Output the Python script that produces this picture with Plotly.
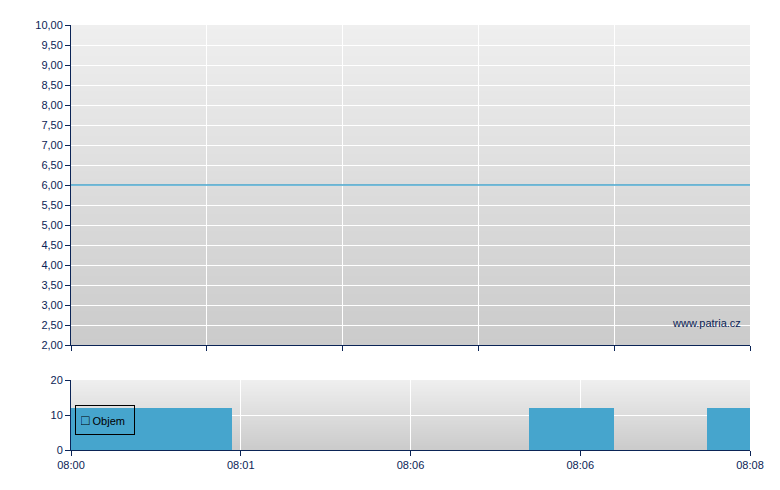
import base64, struct, zlib
import plotly.graph_objects as go

# ---- data ----
price_x = [0, 8]                     # minutes after 08:00 (axis span)
price_y = [6.0, 6.0]
bar_start = [0.0, 5.40, 7.49]
bar_end = [1.90, 6.40, 8.49]
volume = [12, 12, 12]
bottom_tick_vals = [0, 2, 4, 6, 8]
bottom_tick_text = ["08:00", "08:01", "08:06", "08:06", "08:08"]
top_tick_vals = [0, 1.6, 3.2, 4.8, 6.4, 8]
price_ticks = [2 + 0.5 * i for i in range(17)]

NAVY = "#0b2456"
FONT = dict(family="Liberation Sans", size=11, color=NAVY)


def gradient_png(top=239, bottom=203, h=128):
    rows = b""
    for i in range(h):
        v = int(round(top + (bottom - top) * i / (h - 1)))
        rows += b"\x00" + bytes([v])
    def chunk(tag, data):
        c = tag + data
        return struct.pack(">I", len(data)) + c + struct.pack(">I", zlib.crc32(c) & 0xffffffff)
    png = b"\x89PNG\r\n\x1a\n"
    png += chunk(b"IHDR", struct.pack(">IIBBBBB", 1, h, 8, 0, 0, 0, 0))
    png += chunk(b"IDAT", zlib.compress(rows))
    png += chunk(b"IEND", b"")
    return "data:image/png;base64," + base64.b64encode(png).decode()


GRAD = gradient_png()

fig = go.Figure()
fig.add_trace(go.Scatter(x=price_x, y=price_y, mode="lines",
                         line=dict(color="#46a5cd", width=1.3),
                         showlegend=False, xaxis="x", yaxis="y",
                         hoverinfo="skip"))
fig.add_trace(go.Bar(x=bar_start, y=volume,
                     width=[e - s for s, e in zip(bar_start, bar_end)],
                     offset=0, marker=dict(color="#46a5cd", line=dict(width=0)),
                     showlegend=False, xaxis="x2", yaxis="y2", name="Objem"))

top_dom = [105 / 425, 1]
bot_dom = [0, 70 / 425]

images = [
    dict(source=GRAD, xref="paper", yref="paper", x=0, y=top_dom[1],
         sizex=1, sizey=top_dom[1] - top_dom[0], sizing="stretch",
         xanchor="left", yanchor="top", layer="below"),
    dict(source=GRAD, xref="paper", yref="paper", x=0, y=bot_dom[1],
         sizex=1, sizey=bot_dom[1] - bot_dom[0], sizing="stretch",
         xanchor="left", yanchor="top", layer="below"),
]

axis_common = dict(showline=True, linecolor=NAVY, linewidth=1,
                   ticks="outside", tickcolor=NAVY, ticklen=5,
                   gridcolor="white", gridwidth=1, zeroline=False,
                   tickfont=FONT)

fig.update_layout(
    width=772, height=482,
    margin=dict(l=63, r=30, t=17, b=40),
    paper_bgcolor="white", plot_bgcolor="rgba(0,0,0,0)",
    separators=",.",
    images=images,
    showlegend=False,
    xaxis=dict(domain=[0, 1], range=[0, 8], anchor="y",
               tickvals=top_tick_vals, showticklabels=False, **axis_common),
    yaxis=dict(domain=top_dom, range=[2, 10], anchor="x",
               tickvals=price_ticks, tickformat=".2f", **axis_common),
    xaxis2=dict(domain=[0, 1], range=[0, 8], anchor="y2",
                tickvals=bottom_tick_vals, ticktext=bottom_tick_text,
                **axis_common),
    yaxis2=dict(domain=bot_dom, range=[0, 20], anchor="x2",
                tickvals=[0, 10, 20], **axis_common),
    bargap=0,
    annotations=[
        dict(text="www.patria.cz", xref="x domain", yref="y domain",
             x=0.99, y=0.045, xanchor="right", yanchor="bottom",
             showarrow=False,
             font=dict(family="Liberation Sans", size=11, color=NAVY)),
        dict(text="<span style='font-size:14px'>\u25a1</span> Objem",
             xref="paper", yref="paper",
             x=4 / 679, y=45 / 425, xanchor="left", yanchor="top",
             showarrow=False, align="left", width=48, height=18,
             bordercolor="black", borderwidth=1, borderpad=5,
             bgcolor="rgba(0,0,0,0)",
             font=dict(family="Liberation Sans", size=11, color="black")),
    ],
)

fig.write_html("out.html")
